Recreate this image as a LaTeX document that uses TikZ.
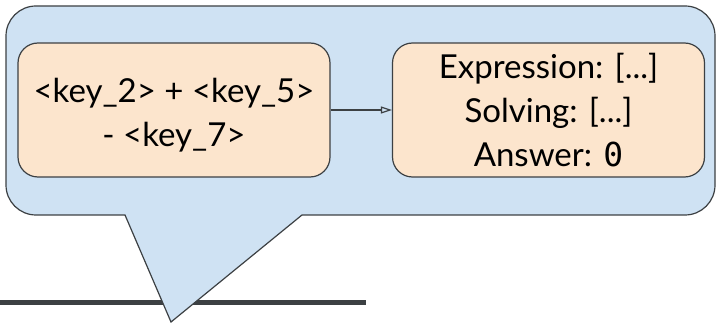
\documentclass[tikz,border=0pt]{standalone}
\usepackage{fontspec}
\setmainfont{Lato}
\newfontfamily\zerofont{DejaVu Sans Mono}
\usetikzlibrary{arrows.meta}
\definecolor{edge}{HTML}{3C4043}
\definecolor{bubble}{HTML}{CFE2F3}
\definecolor{peach}{HTML}{FCE5CD}
% monospaced zero with a small dot drawn in its middle
\newcommand{\dotzero}{\rlap{\zerofont 0}{\zerofont\makebox[0.602em]{\raisebox{0.3em}{\tikz\fill[black] (0,0) circle (1.4pt);}}}}
\tikzset{
  card/.style={draw=edge, line width=1.2pt, fill=peach, rounded corners=20pt,
    minimum width=312pt, minimum height=134pt, align=center,
    font=\fontsize{33}{44}\selectfont, inner sep=0pt},
  link/.style={draw=edge, line width=1.2pt, -{Triangle[open, length=11pt, width=7pt]}}
}
\begin{document}
\begin{tikzpicture}[x=1pt, y=-1pt]
  \useasboundingbox (0,0) rectangle (716,323);
  % ground line behind the speech bubble
  \draw[edge, line width=5pt] (0,302.5) -- (366,302.5);
  % speech bubble with its tail
  \draw[draw=edge, line width=1.2pt, fill=bubble]
    (125,215) [rounded corners=30pt] -- (6,215) -- (6,6) -- (715,6) -- (715,215)
    [sharp corners] -- (302,215) -- (171,322) -- cycle;
  \node[card] (expr) at (174,110) {\rule{0pt}{34pt}<key\_2> + <key\_5>\\- <key\_7>};
  \node[card] (out) at (548.5,110) {Expression: [...]\\Solving: [...]\\Answer: \dotzero};
  \draw[link] (expr) -- (out);
\end{tikzpicture}
\end{document}
